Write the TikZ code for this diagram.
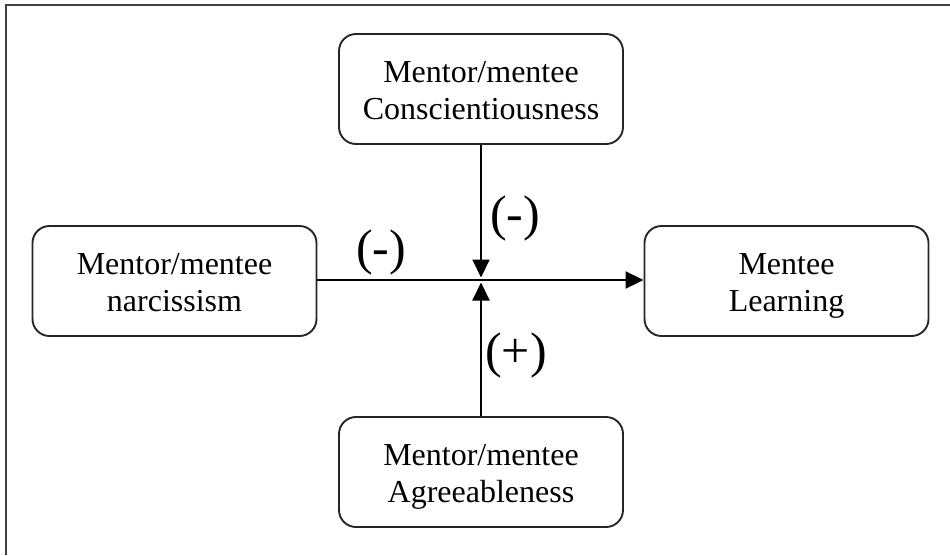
\documentclass[tikz,border=0pt]{standalone}
\usepackage{fontspec}
\setmainfont{Liberation Serif}
\usetikzlibrary{arrows.meta}
\begin{document}
\begin{tikzpicture}[x=1pt,y=-1pt,
  box/.style={draw=black!85, line width=1.9pt, rounded corners=17pt, minimum width=284pt, minimum height=110pt, inner sep=0pt, align=center, font=\fontsize{32}{37}\selectfont},
  conn/.style={draw=black, line width=2pt, -{Triangle[length=18pt,width=17pt]}},
  sign/.style={inner sep=0pt, font=\fontsize{50}{56}\selectfont},
  frame/.style={draw=black!75, line width=2pt}]
\useasboundingbox (0,0) rectangle (950,555);
\draw[frame] (950,5) -- (6,5) -- (6,555);
\node[box] (top) at (481,89) {\rule{0pt}{36pt}Mentor/mentee\\Conscientiousness\strut};
\node[box] (left) at (174.5,281) {\rule{0pt}{36pt}Mentor/mentee\\narcissism\strut};
\node[box] (right) at (786.5,281) {\rule{0pt}{36pt}Mentee\\Learning\strut};
\node[box] (bottom) at (481,472) {\rule{0pt}{36pt}Mentor/mentee\\Agreeableness\strut};
\coordinate (c) at (481,280);
\coordinate (cup) at (481,277.5);
\coordinate (cdown) at (481,282.5);
\draw[conn] (left.east |- c) -- (right.west |- c);
\draw[conn] (top.south) -- (cup);
\draw[conn] (bottom.north) -- (cdown);
\node[sign] (s1) at (381,252) {(-)};
\node[sign] (s2) at (515,218) {(-)};
\node[sign] (s3) at (516,355) {(+)};
\end{tikzpicture}
\end{document}
